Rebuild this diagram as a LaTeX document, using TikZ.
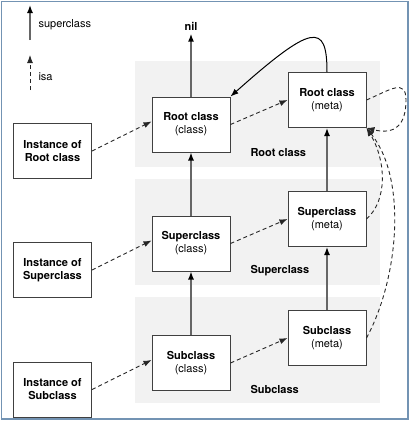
\documentclass[tikz,border=0pt]{standalone}
\usepackage{fontspec}
\setmainfont{TeX Gyre Heros}
\usepackage{xcolor}
\usetikzlibrary{arrows.meta}
\definecolor{framecol}{RGB}{115,147,179}
\tikzset{
    clsbox/.style={draw=black!75, fill=white, line width=1pt, minimum width=78pt,
        minimum height=55pt, align=center, font=\fontsize{11}{13}\selectfont},
    super/.style={draw=black!60, line width=1.4pt, -{Latex[length=8pt,width=6pt,color=black]}},
    isa/.style={draw=black!85, line width=0.9pt, dash pattern=on 4pt off 3pt,
        -{Latex[length=8pt,width=6pt]}},
    bandlabel/.style={anchor=west, font=\fontsize{11}{13}\selectfont\bfseries}
}

\begin{document}
\begin{tikzpicture}[x=1pt, y=-1pt]
        \useasboundingbox (0,0) rectangle (411,421);
        \draw[framecol, line width=1.2pt] (1.5,1.5) rectangle (408,419);

        % bands
        \fill[gray!10] (135,61) rectangle (380,167);
        \fill[gray!10] (135,179) rectangle (380,285);
        \fill[gray!10] (135,297) rectangle (380,403);
        \node[bandlabel] (lblroot) at (247,153) {Root class};
        \node[bandlabel] (lblsup) at (247,271) {Superclass};
        \node[bandlabel] (lblsub) at (247,389) {Subclass};

        % legend
        \coordinate (legsupa) at (30,40);
        \coordinate (legsupb) at (30,5);
        \coordinate (legisaa) at (30,90);
        \coordinate (legisab) at (30,55);
        \draw[super] (legsupa) -- (legsupb);
        \draw[isa] (legisaa) -- (legisab);
        \node[anchor=west, font=\fontsize{11}{13}\selectfont] (legsup) at (35,25) {superclass};
        \node[anchor=west, font=\fontsize{11}{13}\selectfont] (legisa) at (35,77) {isa};

        % classes
        \node[clsbox] (instroot) at (52.5,151) {\textbf{Instance of}\\\textbf{Root class}};
        \node[clsbox] (instsup) at (52.5,270) {\textbf{Instance of}\\\textbf{Superclass}};
        \node[clsbox] (instsub) at (52.5,389.5) {\textbf{Instance of}\\\textbf{Subclass}};
        \node[clsbox] (rootcls) at (191,124.5) {\textbf{Root class}\\(class)};
        \node[clsbox] (supcls) at (191,243.5) {\textbf{Superclass}\\(class)};
        \node[clsbox] (subcls) at (191,363) {\textbf{Subclass}\\(class)};
        \node[clsbox] (rootmeta) at (327,100) {\textbf{Root class}\\(meta)};
        \node[clsbox] (supmeta) at (327,219) {\textbf{Superclass}\\(meta)};
        \node[clsbox] (submeta) at (327,338) {\textbf{Subclass}\\(meta)};
        \node[font=\fontsize{11}{13}\selectfont\bfseries] (nil) at (191,26) {nil};

        % superclass
        \draw[super] (rootcls.north) -- (nil.south);
        \draw[super] (supcls.north) -- (rootcls.south);
        \draw[super] (subcls.north) -- (supcls.south);
        \draw[super] (supmeta.north) -- (rootmeta.south);
        \draw[super] (submeta.north) -- (supmeta.south);
        \draw[super, draw=black, line width=1pt]
            (rootmeta.north) .. controls (327,22) and (312,24) .. (rootcls.north east);

        % isa
        \draw[isa] (instroot.east) -- ([yshift=3pt]rootcls.west);
        \draw[isa] (instsup.east) -- ([yshift=3pt]supcls.west);
        \draw[isa] (instsub.east) -- ([yshift=3pt]subcls.west);
        \draw[isa] (rootcls.east) -- (rootmeta.west);
        \draw[isa] (supcls.east) -- (supmeta.west);
        \draw[isa] (subcls.east) -- (submeta.west);
        \draw[isa] (rootmeta.east) .. controls (390,90) and (406,78) .. (406,100)
            .. controls (406,125) and (395,135) .. (rootmeta.south east);
        \draw[isa] (supmeta.east) .. controls (388,200) and (386,160) .. (rootmeta.south east);
        \draw[isa] (submeta.east) .. controls (398,280) and (408,180) .. (rootmeta.south east);
\end{tikzpicture}
\end{document}
